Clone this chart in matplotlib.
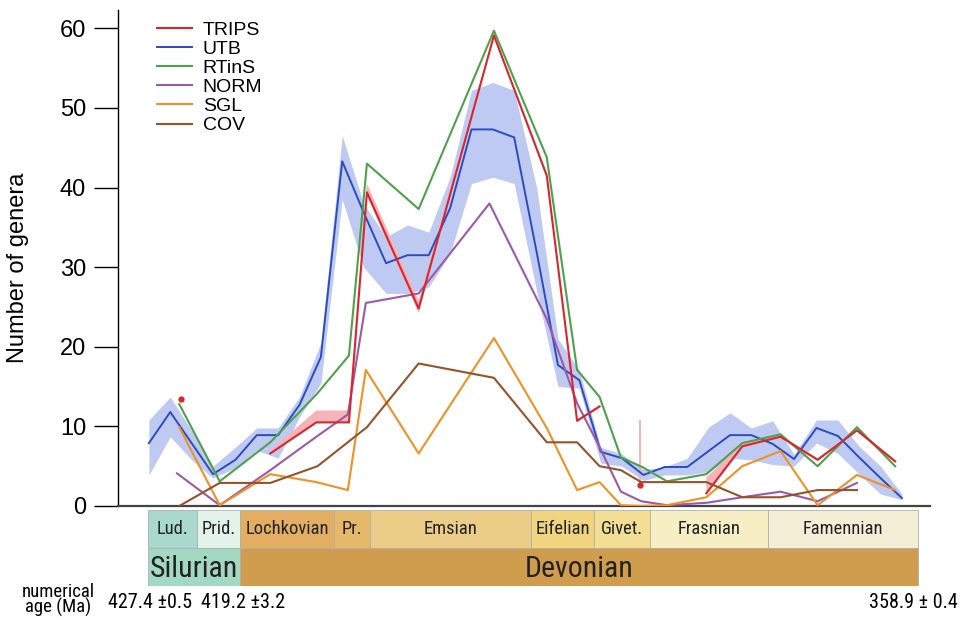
import numpy as np
import matplotlib
matplotlib.use("Agg")
import matplotlib.pyplot as plt
from matplotlib import font_manager

plt.rcParams.update({
    "font.family": ["Liberation Sans", "DejaVu Sans"],
    "axes.facecolor": "none",
    "figure.facecolor": "white",
})

# pick a narrow sans face for the time scale labels if one is installed
narrow_file = None
best = 99
prefs = ["Liberation Sans Narrow", "Roboto Condensed", "Open Sans Condensed",
         "Noto Sans", "DejaVu Sans", "Roboto", "Open Sans"]
for f in font_manager.fontManager.ttflist:
    if any(k in f.name for k in ("Mono", "Serif", "Code", "Math", "CJK", "Display")):
        continue
    if not ("Narrow" in f.name or "Condensed" in f.name or f.stretch in ("condensed", "semi-condensed")):
        continue
    if f.style != "normal" or f.weight not in (400, "normal", "regular"):
        continue
    rank = next((i for i, p in enumerate(prefs) if f.name.startswith(p)), 50)
    if rank < best:
        best, narrow_file = rank, f.fname
if narrow_file:
    NARROW = font_manager.FontProperties(fname=narrow_file)
    NSCALE = 1.0
else:
    NARROW = font_manager.FontProperties(family="Liberation Sans")
    NSCALE = 0.82


def nfont(size):
    p = NARROW.copy()
    p.set_size(size * NSCALE)
    return p


# =========================
# Data (ages in Ma, values = number of genera)
# =========================

# UTB with its confidence band
utb_age = [427.3, 425.4, 423.5, 421.6, 419.6, 417.7, 415.8, 413.9, 412.0, 410.1,
           408.2, 406.2, 404.3, 402.4, 400.5, 398.6, 396.7, 394.8, 392.8, 390.9,
           389.0, 387.1, 385.2, 383.3, 381.4, 379.4, 377.5, 375.6, 373.7, 371.8,
           369.9, 367.9, 366.0, 364.1, 362.2, 360.3]
utb_val = [7.9, 11.8, 7.9, 4.0, 5.8, 8.9, 8.9, 12.7, 18.7, 43.3,
           36.9, 30.5, 31.5, 31.5, 37.4, 47.3, 47.3, 46.3, 31.9, 17.7,
           15.8, 6.8, 6.0, 3.9, 4.9, 4.9, 6.9, 8.9, 8.9, 7.8,
           5.9, 9.8, 8.8, 6.1, 3.5, 1.0]
utb_lo = [3.9, 8.7, 5.8, 3.5, 4.8, 7.0, 6.0, 11.2, 15.4, 38.5,
          30.0, 26.7, 26.7, 27.5, 31.7, 40.5, 41.3, 40.5, 27.0, 15.0,
          14.8, 5.4, 5.0, 3.2, 3.9, 3.9, 4.3, 6.0, 5.8, 5.2,
          5.0, 7.9, 6.6, 4.0, 1.5, 0.8]
utb_hi = [10.8, 13.7, 9.5, 5.0, 7.4, 9.8, 9.8, 13.7, 20.5, 46.5,
          38.0, 33.8, 35.3, 34.4, 41.3, 52.2, 53.2, 52.2, 40.0, 21.0,
          17.0, 7.4, 6.5, 4.6, 4.9, 6.0, 9.9, 11.7, 9.8, 10.7,
          6.5, 10.8, 10.8, 7.5, 5.0, 1.5]

# TRIPS (gaps = nan) with narrow band
trips_age = [416.5, 412.4, 409.5, 407.9, 403.3, 396.6, 391.9, 389.2, 387.2,
             383.6, 377.7, 374.5, 371.1, 367.8, 364.3, 360.9]
trips_val = [6.6, 10.5, 10.5, 39.4, 24.8, 59.1, 41.5, 10.7, 12.5,
             np.nan, 1.6, 7.5, 8.7, 5.8, 9.5, 5.6]
trips_lo = [6.6, 10.5, 10.5, 39.0, 24.2, 59.0, 41.3, 10.6, 12.4,
            np.nan, 1.4, 7.3, 8.6, 5.7, 9.4, 5.5]
trips_hi = [7.0, 12.0, 12.0, 40.5, 25.8, 59.3, 41.8, 10.9, 12.7,
            np.nan, 3.6, 7.8, 8.9, 6.0, 9.7, 5.8]
trips_dot_age = [424.4, 383.6]
trips_dot_val = [13.5, 2.6]
trips_dot_hi = [13.5, 10.8]

# RTinS
rtins_age = [424.6, 421.0, 416.5, 412.4, 409.5, 407.9, 403.3, 396.6, 391.9, 389.2,
             387.2, 385.3, 383.4, 381.2, 377.7, 374.5, 371.1, 367.8, 364.3, 360.9]
rtins_val = [12.8, 3.1, 8.0, 14.0, 18.9, 43.0, 37.3, 59.7, 43.8, 17.1,
             13.7, 6.1, 4.9, 3.1, 4.0, 7.9, 9.0, 5.0, 9.9, 5.0]

# NORM
norm_age = [424.8, 421.0, 416.5, 412.4, 409.6, 408.0, 403.3, 397.0, 391.9, 389.2,
            387.2, 385.3, 383.5, 381.2, 377.7, 374.5, 371.1, 367.8, 364.3]
norm_val = [4.1, 0.1, 4.5, 8.7, 11.5, 25.5, 26.7, 38.0, 23.5, 12.9,
            7.4, 1.8, 0.6, 0.1, 0.4, 1.1, 1.8, 0.6, 2.9]

# SGL
sgl_age = [424.6, 421.0, 416.5, 412.4, 409.6, 408.0, 403.3, 396.6, 391.9, 389.2,
           387.2, 385.3, 383.5, 381.2, 377.7, 374.5, 371.1, 367.8, 364.3, 360.9]
sgl_val = [9.9, 0.1, 4.0, 3.0, 2.0, 17.1, 6.6, 21.1, 9.8, 2.0,
           3.0, 0.1, 0.0, 0.1, 1.1, 5.0, 6.9, 0.1, 3.9, 2.0]

# COV
cov_age = [424.6, 421.0, 416.5, 412.3, 407.9, 403.3, 396.6, 391.9, 389.2, 387.2,
           385.3, 383.5, 381.2, 377.7, 374.5, 371.1, 367.8, 364.3]
cov_val = [0.0, 2.9, 2.9, 5.0, 9.9, 17.9, 16.1, 8.0, 8.0, 5.0,
           4.5, 3.0, 3.0, 3.0, 1.1, 1.1, 2.0, 2.0]

# Geological time scale
stage_names = ["Lud.", "Prid.", "Lochkovian", "Pr.", "Emsian", "Eifelian",
               "Givet.", "Frasnian", "Famennian"]
stage_start = [427.4, 423.0, 419.2, 410.8, 407.6, 393.3, 387.7, 382.7, 372.2]
stage_end = [423.0, 419.2, 410.8, 407.6, 393.3, 387.7, 382.7, 372.2, 358.9]
stage_colors = ["#a9d9cc", "#e4f3ea", "#e3ae62", "#e6b96a", "#ebcd88",
                "#f0d57e", "#f2df94", "#f6efc4", "#f5eed6"]
period_names = ["Silurian", "Devonian"]
period_start = [427.4, 419.2]
period_end = [419.2, 358.9]
period_colors = ["#a3d8c3", "#d09d4f"]

# =========================
# Plot
# =========================
W, H = 960, 619
fig = plt.figure(figsize=(W / 100, H / 100), dpi=100)
ax = fig.add_axes([118 / W, 1 - 506 / H, (930 - 118) / W, (506 - 10) / H])

ax.fill_between(utb_age, utb_lo, utb_hi, color="#bfcaf2", lw=0, zorder=1)
ax.fill_between(trips_age, trips_lo, trips_hi, color="#f4b4b8", lw=0, zorder=1)

ax.plot(trips_age, trips_val, color="#d7262e", lw=1.5, label="TRIPS", zorder=4)
ax.plot(utb_age, utb_val, color="#2b4cc0", lw=1.4, label="UTB", zorder=3)
ax.plot(rtins_age, rtins_val, color="#4ea14b", lw=1.5, label="RTinS", zorder=3)
ax.plot(norm_age, norm_val, color="#9b5aa9", lw=1.5, label="NORM", zorder=3)
ax.plot(sgl_age, sgl_val, color="#ef9125", lw=1.5, label="SGL", zorder=3)
ax.plot(cov_age, cov_val, color="#94532b", lw=1.5, label="COV", zorder=3)

# isolated TRIPS estimates
ax.vlines(trips_dot_age, trips_dot_val, trips_dot_hi, color="#f0a8b0", lw=1.2, zorder=2)
ax.plot(trips_dot_age, trips_dot_val, "o", color="#d7262e", ms=3.5, zorder=5)

ax.set_xlim(430.05, 357.8)
ax.set_ylim(0, 62.3)
ax.set_xticks([])
ax.set_yticks([0, 10, 20, 30, 40, 50, 60])
ax.tick_params(axis="y", direction="out", length=17, width=1, labelsize=17, pad=6)
ax.spines["top"].set_visible(False)
ax.spines["right"].set_visible(False)
ax.spines["left"].set_linewidth(1.0)
ax.spines["bottom"].set_linewidth(1.6)
ax.spines["bottom"].set_color("#444444")
ax.set_ylabel("Number of genera", fontsize=17)
ax.yaxis.set_label_coords(-0.110, 0.48)

ax.legend(frameon=False, loc="upper left", bbox_to_anchor=(157 / W, 1 - 21 / H),
          bbox_transform=fig.transFigure, fontsize=14, handlelength=1.8,
          handletextpad=0.55, labelspacing=0.08, borderpad=0, borderaxespad=0)

# Time scale
ts = fig.add_axes([118 / W, 1 - 586 / H, (930 - 118) / W, 76 / H])
ts.set_xlim(430.05, 357.8)
ts.set_ylim(0, 2)
ts.axis("off")
for name, s, e, c in zip(stage_names, stage_start, stage_end, stage_colors):
    ts.barh(1.5, s - e, left=e, height=1, color=c, edgecolor="#b0b0b0", lw=0.6)
    ts.text((s + e) / 2, 1.5, name, ha="center", va="center",
            fontproperties=nfont(13.3), color="#222222")
for name, s, e, c in zip(period_names, period_start, period_end, period_colors):
    ts.barh(0.5, s - e, left=e, height=1, color=c, edgecolor="#b0b0b0", lw=0.6)
    ts.text((s + e) / 2, 0.45, name, ha="center", va="center",
            fontproperties=nfont(21.5), color="#222222")

fig.text(58 / W, 1 - 600 / H, "numerical\nage (Ma)", ha="center", va="center",
         fontproperties=nfont(13.5), linespacing=0.85)
fig.text(108 / W, 1 - 602 / H, "427.4 ±0.5", ha="left", va="center", fontproperties=nfont(14.5))
fig.text(201 / W, 1 - 602 / H, "419.2 ±3.2", ha="left", va="center", fontproperties=nfont(14.5))
fig.text(958 / W, 1 - 602 / H, "358.9 ± 0.4", ha="right", va="center", fontproperties=nfont(14.5))

fig.savefig("out.png", dpi=100)
